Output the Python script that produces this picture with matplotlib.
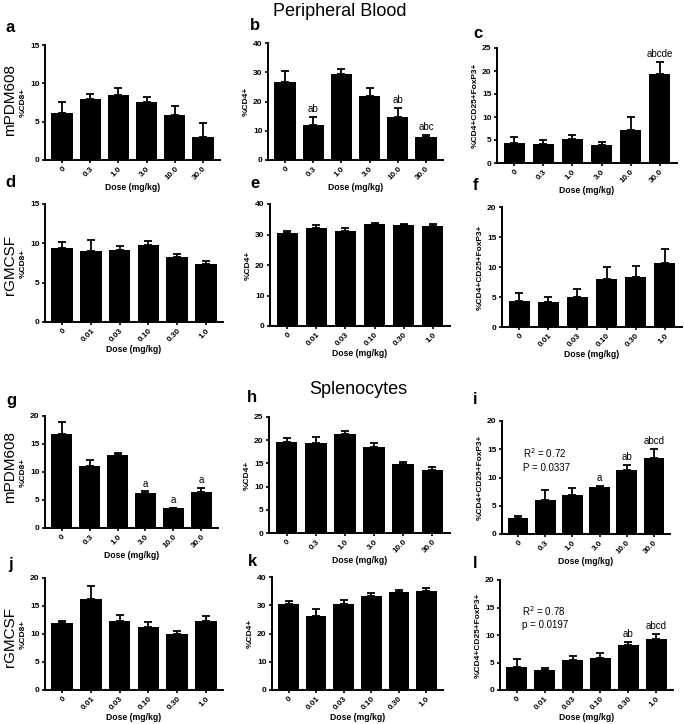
import numpy as np
import matplotlib
matplotlib.use("Agg")
import matplotlib.pyplot as plt

plt.rcParams['font.family'] = ['Liberation Sans', 'DejaVu Sans']

# ---------------- data ----------------
dose_pdm = ["0", "0.3", "1.0", "3.0", "10.0", "30.0"]
dose_gm = ["0", "0.01", "0.03", "0.10", "0.30", "1.0"]

a_vals = [6.1, 7.9, 8.5, 7.6, 5.9, 3.0]
a_err = [1.5, 0.7, 0.9, 0.6, 1.2, 1.8]
b_vals = [26.5, 12.1, 29.4, 22.0, 14.8, 7.9]
b_err = [3.9, 2.6, 1.8, 2.6, 3.1, 0.7]
b_lab = ["", "ab", "", "", "ab", "abc"]
c_vals = [4.3, 4.2, 5.2, 3.9, 7.2, 19.3]
c_err = [1.4, 0.8, 0.9, 0.7, 2.8, 2.6]
c_lab = ["", "", "", "", "", "abcde"]

d_vals = [9.35, 9.0, 9.15, 9.85, 8.3, 7.35]
d_err = [0.85, 1.4, 0.45, 0.5, 0.4, 0.45]
e_vals = [30.5, 32.1, 31.3, 33.4, 33.2, 32.9]
e_err = [0.8, 1.0, 0.9, 0.3, 0.4, 0.5]
f_vals = [4.3, 4.1, 5.0, 8.0, 8.4, 10.6]
f_err = [1.4, 0.9, 1.3, 2.0, 1.8, 2.4]

g_vals = [16.8, 11.0, 13.05, 6.25, 3.5, 6.5]
g_err = [2.1, 1.2, 0.4, 0.3, 0.15, 0.6]
g_lab = ["", "", "", "a", "a", "a"]
h_vals = [19.6, 19.3, 21.4, 18.6, 14.9, 13.6]
h_err = [0.9, 1.4, 0.6, 0.7, 0.5, 0.6]
i_vals = [2.8, 6.0, 6.9, 8.4, 11.3, 13.4]
i_err = [0.35, 1.7, 1.3, 0.15, 1.0, 1.6]
i_lab = ["", "", "", "a", "ab", "abcd"]

j_vals = [11.95, 16.3, 12.3, 11.2, 10.0, 12.4]
j_err = [0.3, 2.3, 1.1, 0.9, 0.6, 0.8]
k_vals = [30.6, 26.3, 30.6, 33.4, 34.6, 35.1]
k_err = [0.8, 2.2, 1.3, 1.1, 0.9, 0.9]
l_vals = [4.25, 3.7, 5.45, 5.75, 8.1, 9.35]
l_err = [1.35, 0.35, 0.75, 0.95, 0.6, 0.85]
l_lab = ["", "", "", "", "ab", "abcd"]

W, H = 684, 724
fig = plt.figure(figsize=(W / 100, H / 100), dpi=100)


def px_axes(L, T, R, B):
    return fig.add_axes([L / W, 1 - B / H, (R - L) / W, (B - T) / H])


def panel(box, vals, errs, ticks, ymax, ystep, ylabel, labels=None, note=None):
    ax = px_axes(*box)
    x = np.arange(len(vals))
    ax.bar(x, vals, width=0.75, color='black', zorder=2)
    ax.errorbar(x, vals, yerr=[np.zeros(len(errs)), errs], fmt='none',
                ecolor='black', elinewidth=1.3, capsize=3.2, capthick=1.3, zorder=3)
    ax.set_xlim(-0.6, 5.6)
    ax.set_ylim(0, ymax)
    yt = np.arange(0, ymax + 0.01, ystep)
    ax.set_yticks(yt)
    ax.set_yticklabels([f"{int(v)}" for v in yt], fontsize=6, fontweight='bold')
    ax.set_xticks(x)
    ax.set_xticklabels(ticks, rotation=45, ha='right', rotation_mode='anchor',
                       fontsize=5.8, fontweight='bold')
    for s in ['top', 'right']:
        ax.spines[s].set_visible(False)
    for s in ['left', 'bottom']:
        ax.spines[s].set_linewidth(1.4)
    ax.tick_params(axis='both', direction='out', length=2.5, width=1.2, pad=1.5)
    ax.set_ylabel(ylabel, fontsize=6, fontweight='bold', labelpad=2)
    ax.set_xlabel("Dose (mg/kg)", fontsize=6.2, fontweight='bold', labelpad=1)
    if labels:
        for xi, v, e, t in zip(x, vals, errs, labels):
            if t:
                ax.text(xi, v + e + ymax * 0.025, t, ha='center', va='bottom',
                        fontsize=7, clip_on=False)
    if note:
        ax.text(0.18, ymax * 0.66, note, ha='left', va='center', fontsize=7,
                linespacing=1.3)
    return ax


panel((45, 45, 220, 160), a_vals, a_err, dose_pdm, 15, 5, "%CD8+")
panel((268, 43, 443, 160), b_vals, b_err, dose_pdm, 40, 10, "%CD4+", b_lab)
panel((497, 48, 677, 163), c_vals, c_err, dose_pdm, 25, 5, "%CD4+CD25+FoxP3+", c_lab)

panel((45, 204, 223, 322), d_vals, d_err, dose_gm, 15, 5, "%CD8+")
panel((270, 204, 450, 326), e_vals, e_err, dose_gm, 40, 10, "%CD4+")
panel((502, 207, 682, 327), f_vals, f_err, dose_gm, 20, 5, "%CD4+CD25+FoxP3+")

panel((45, 416, 218, 528), g_vals, g_err, dose_pdm, 20, 5, "%CD8+", g_lab)
panel((269, 417, 450, 533), h_vals, h_err, dose_pdm, 25, 5, "%CD4+")
panel((502, 421, 670, 534), i_vals, i_err, dose_pdm, 20, 5, "%CD4+CD25+FoxP3+", i_lab,
      note="R$^2$ = 0.72\nP = 0.0337")

panel((45, 578, 223, 690), j_vals, j_err, dose_gm, 20, 5, "%CD8+")
panel((272, 577, 443, 690), k_vals, k_err, dose_gm, 40, 10, "%CD4+")
panel((500, 580, 673, 690), l_vals, l_err, dose_gm, 20, 5, "%CD4+CD25+FoxP3+", l_lab,
      note="R$^2$ = 0.78\np = 0.0197")


def ftext(xp, yp, s, **kw):
    fig.text(xp / W, 1 - yp / H, s, **kw)


# panel letters
letters = [("a", 5, 28), ("b", 250, 25), ("c", 473, 33),
           ("d", 5, 182), ("e", 250, 184), ("f", 473, 185),
           ("g", 6, 400), ("h", 247, 397), ("i", 473, 400),
           ("j", 8, 565), ("k", 248, 562), ("l", 473, 563)]
for s, xp, yp in letters:
    ftext(xp, yp, s, fontsize=12, fontweight='bold', ha='left', va='center')

# section titles
ftext(340, 12, "Peripheral Blood", fontsize=13, ha='center', va='center')
ftext(358, 390, "Splenocytes", fontsize=13, ha='center', va='center')

# row labels
for s, yp in [("mPDM608", 100), ("rGMCSF", 265), ("mPDM608", 467), ("rGMCSF", 637)]:
    ftext(10, yp, s, fontsize=11, rotation=90, ha='center', va='center')

fig.savefig("out.png", dpi=100)
